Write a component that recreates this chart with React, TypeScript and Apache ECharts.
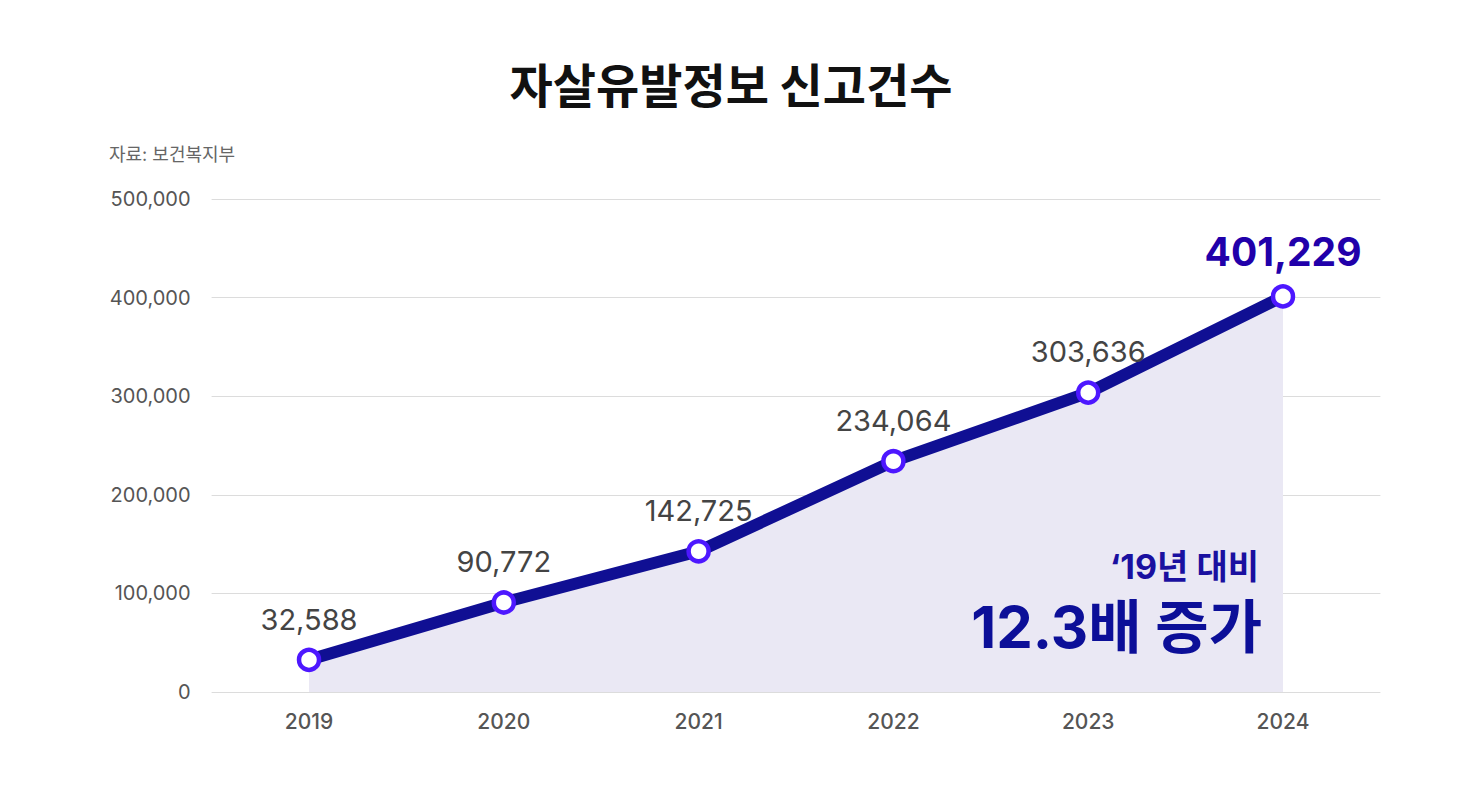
import React, { useEffect, useRef } from "react";
import * as echarts from "echarts";

const years = ["2019", "2020", "2021", "2022", "2023", "2024"];
const reports = [32588, 90772, 142725, 234064, 303636, 401229];
const yTicks = { min: 0, max: 500000, interval: 100000 };
const titleText = "자살유발정보 신고건수";
const sourceText = "자료: 보건복지부";
const noteLine1 = "‘19년 대비";
const noteLine2 = "12.3배 증가";

const FONT = "Inter, 'Noto Sans CJK KR', sans-serif";

export default function App() {
  const ref = useRef<HTMLDivElement>(null);
  useEffect(() => {
    if (!ref.current) return;
    const chart = echarts.init(ref.current, null, { renderer: "svg" });
    const lastIdx = reports.length - 1;
    const data = reports.map((v, i) =>
      i === lastIdx
        ? {
            value: v,
            label: {
              fontSize: 39,
              fontWeight: 700,
              color: "#2100aa",
              distance: 13,
            },
          }
        : v
    );
    chart.setOption({
      animation: false,
      backgroundColor: "#ffffff",
      textStyle: { fontFamily: FONT },
      title: [
        {
          text: titleText,
          left: "center",
          top: 54,
          textStyle: {
            fontFamily: "'Noto Sans CJK KR', sans-serif",
            fontSize: 47,
            fontWeight: 700,
            color: "#111111",
          },
        },
        {
          text: sourceText,
          left: 104,
          top: 140,
          textStyle: {
            fontFamily: FONT,
            fontSize: 18,
            fontWeight: 400,
            color: "#666666",
          },
        },
      ],
      grid: {
        left: 211.6,
        right: 81.6,
        top: 199,
        bottom: 110,
        containLabel: false,
        outerBoundsMode: "none",
      },
      xAxis: {
        type: "category",
        data: years,
        boundaryGap: true,
        axisLine: { show: false },
        axisTick: { show: false },
        axisLabel: {
          margin: 19,
          fontSize: 21,
          fontWeight: 500,
          color: "#555555",
          fontFamily: FONT,
        },
      },
      yAxis: {
        type: "value",
        min: yTicks.min,
        max: yTicks.max,
        interval: yTicks.interval,
        axisLine: { show: false },
        axisTick: { show: false },
        axisLabel: {
          margin: 21,
          fontSize: 20,
          color: "#555555",
          fontFamily: FONT,
          formatter: (v: number) => v.toLocaleString("en-US"),
        },
        splitLine: { lineStyle: { color: "#dcdcdc", width: 1 } },
      },
      series: [
        {
          type: "line",
          data,
          lineStyle: { color: "#100f93", width: 12 },
          symbol: "circle",
          symbolSize: 20,
          itemStyle: {
            color: "#ffffff",
            borderColor: "#4d17ff",
            borderWidth: 4.5,
          },
          areaStyle: { color: "#eae8f4", opacity: 1 },
          label: {
            show: true,
            position: "top",
            distance: 14,
            fontSize: 29,
            fontWeight: 400,
            color: "#444444",
            fontFamily: FONT,
            formatter: (p: any) => Number(p.value).toLocaleString("en-US"),
          },
          z: 3,
        },
      ],
      graphic: [
        {
          type: "text",
          right: 203,
          top: 549,
          style: {
            text: noteLine1,
            fontSize: 34,
            fontWeight: 700,
            fill: "#1a10a0",
            fontFamily: FONT,
            textAlign: "right",
          },
          z: 10,
        },
        {
          type: "text",
          right: 200,
          top: 598,
          style: {
            text: noteLine2,
            fontSize: 58,
            fontWeight: 700,
            fill: "#0c0f98",
            fontFamily: FONT,
            textAlign: "right",
          },
          z: 10,
        },
      ],
    });
    return () => chart.dispose();
  }, []);
  return (
    <div
      ref={ref}
      style={{ position: "fixed", left: 0, top: 0, width: 1462, height: 802 }}
    />
  );
}
